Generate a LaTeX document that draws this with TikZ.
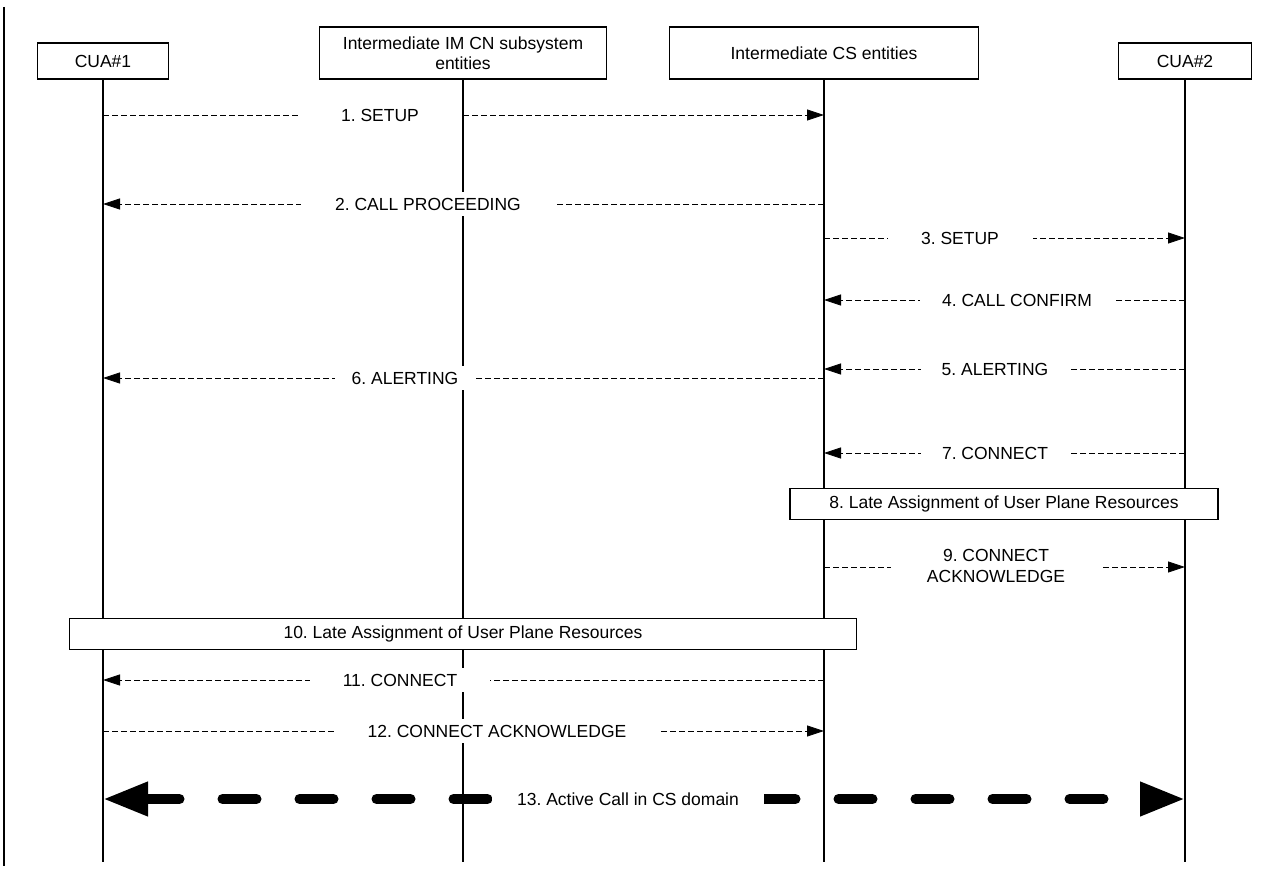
\documentclass[tikz,border=0pt]{standalone}
\usepackage{fontspec}
\setmainfont{Liberation Sans}
\usetikzlibrary{arrows.meta}
\frenchspacing
\begin{document}
\begin{tikzpicture}[
  x = 1pt, y = -1pt,
  every node/.style = {font = \fontsize{17.5}{20.5}\selectfont, inner sep = 0pt},
  entity/.style = {draw, line width = 1.3pt, minimum height = #1, align = center},
  lifeline/.style = {line width = 1.2pt},
  msg/.style = {line width = 0.8pt, dash pattern = on 6pt off 3pt,
                -{Triangle[length = 17pt, width = 11pt]}},
  lbl/.style = {fill = white, minimum height = 24pt, minimum width = #1, align = center},
  proc/.style = {draw, line width = 1.3pt, fill = white, minimum height = 31pt, minimum width = #1},
  bearer/.style = {line width = 10pt, line cap = round, dash pattern = on 34pt off 43pt,
                   {Triangle[length = 45pt, width = 32pt]}-{Triangle[length = 45pt, width = 32pt]}}
  ]
  \useasboundingbox (0,0) rectangle (1279,874);
  \draw[lifeline] (4,7) -- (4,866);

  % entities
  \node[entity = 36pt, minimum width = 131pt] (cua1) at (103,61) {CUA\#1};
  \node[entity = 52pt, minimum width = 287pt] (imcn) at (463,53)
    {Intermediate IM CN subsystem\\entities};
  \node[entity = 52pt, minimum width = 309pt] (cs) at (824,53) {Intermediate CS entities};
  \node[entity = 36pt, minimum width = 133pt] (cua2) at (1185,61) {CUA\#2};

  \foreach \e in {cua1, imcn, cs, cua2}
    \draw[lifeline] (\e) -- (\e |- 0,862);

  % messages
  \draw[msg] (cua1 |- 0,115) -- (cs |- 0,115);
  \node[lbl = 160pt] (m1) at (380,115) {1. SETUP};
  \draw[msg] (cs |- 0,204) -- (cua1 |- 0,204);
  \node[lbl = 255pt] (m2) at (428,204) {2. CALL PROCEEDING};
  \draw[msg] (cs |- 0,238) -- (cua2 |- 0,238);
  \node[lbl = 145pt] (m3) at (960,238) {3. SETUP};
  \draw[msg] (cua2 |- 0,300) -- (cs |- 0,300);
  \node[lbl = 195pt] (m4) at (1017,300) {4. CALL CONFIRM};
  \draw[msg] (cua2 |- 0,369) -- (cs |- 0,369);
  \node[lbl = 148pt] (m5) at (995,369) {5. ALERTING};
  \draw[msg] (cs |- 0,378) -- (cua1 |- 0,378);
  \node[lbl = 140pt] (m6) at (405,378) {6. ALERTING};
  \draw[msg] (cua2 |- 0,453) -- (cs |- 0,453);
  \node[lbl = 148pt] (m7) at (995,453) {7. CONNECT};
  \node[proc = 428pt] (late8) at (1004,504) {8. Late Assignment of User Plane Resources};
  \draw[msg] (cs |- 0,567) -- (cua2 |- 0,567);
  \node[lbl = 210pt] (m9) at (996,566) {9. CONNECT\\ACKNOWLEDGE};
  \node[proc = 787pt] (late10) at (463,634) {10. Late Assignment of User Plane Resources};
  \draw[msg] (cs |- 0,680) -- (cua1 |- 0,680);
  \node[lbl = 180pt] (m11) at (400,680) {11. CONNECT};
  \draw[msg] (cua1 |- 0,731) -- (cs |- 0,731);
  \node[lbl = 325pt] (m12) at (497,731) {12. CONNECT ACKNOWLEDGE};
  \draw[bearer] (cua1 |- 0,799) -- (cua2 |- 0,799);
  \node[lbl = 272pt] (m13) at (628,799) {13. Active Call in CS domain};
\end{tikzpicture}
\end{document}
